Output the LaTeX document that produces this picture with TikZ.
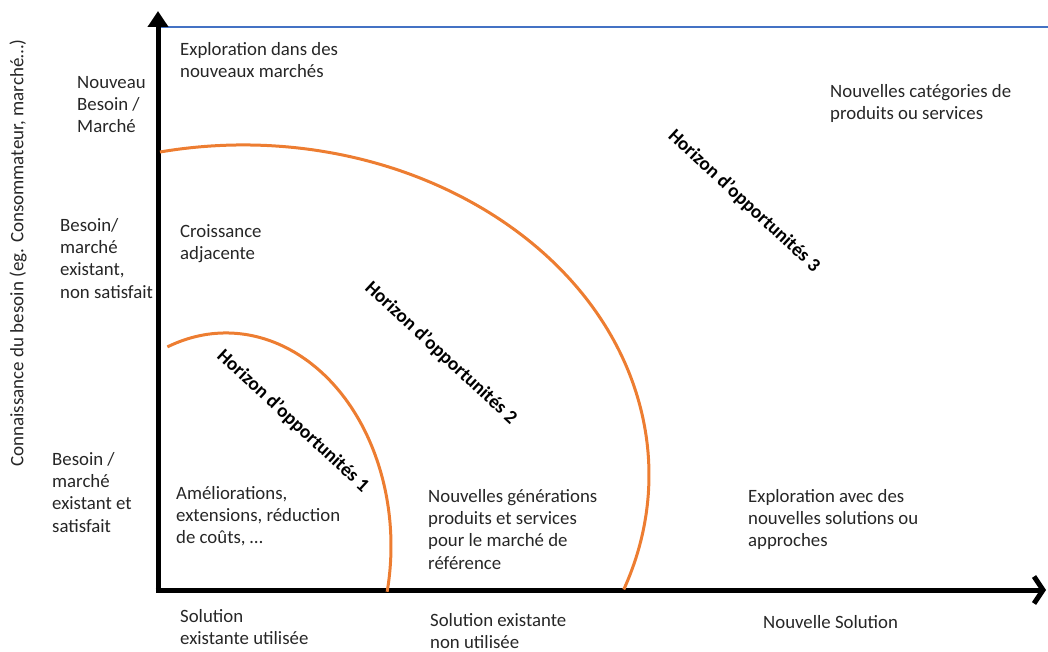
\documentclass[tikz,border=0pt]{standalone}
\usepackage{fontspec}
\setmainfont{Carlito}
\usetikzlibrary{arrows.meta,calc}
\definecolor{orangeC}{HTML}{ED7D31}
\definecolor{blueC}{HTML}{4472C4}
\definecolor{txt}{HTML}{262626}
\begin{document}
\begin{tikzpicture}[x=1pt,y=-1pt,
  lbl/.style={anchor=north west, align=left, inner sep=0pt, text=txt, font=\fontsize{18.8}{22.3}\selectfont},
  ylab/.style={rotate=90, inner sep=0pt, text=txt, font=\fontsize{19}{22}\selectfont},
  hz/.style={rotate=-42.8, inner sep=0pt, text=black, font=\bfseries\fontsize{19.3}{21}\selectfont},
  axisline/.style={line width=5pt, black},
  horizon/.style={draw=orangeC, line width=3pt},
  topline/.style={draw=blueC, line width=2.5pt}]
\useasboundingbox (0,0) rectangle (1048,652);
% axes
\coordinate (O) at (158,592.5);
\coordinate (Ox) at (155.5,590);
\coordinate (ytop) at (158,11);
\coordinate (xend) at (1046,590);
\coordinate (b1) at (160,27);
\coordinate (b2) at (1048,27);
\draw[topline] (b1) -- (b2);
\draw[axisline, -{Triangle[length=16pt,width=20pt]}] (O) -- (ytop);
\draw[axisline, -{Straight Barb[length=9pt,width=27pt]}] (Ox) -- (xend);
% horizons
\coordinate (c1) at (226,546);
\coordinate (c2) at (243,475);
\draw[horizon] ($(c1)+(-110.8:165 and 213)$) arc[start angle=-110.8, end angle=12.4, x radius=165, y radius=213];
\draw[horizon] ($(c2)+(-101.8:406 and 330)$) arc[start angle=-101.8, end angle=20.3, x radius=406, y radius=330];
% labels
\node[lbl] (nb) at (77,76) {Nouveau\\Besoin /\\Marché};
\node[lbl] (bmx) at (60,218) {Besoin/\\marché\\existant,\\non satisfait};
\node[lbl] (bms) at (52,452) {Besoin /\\marché\\existant et\\satisfait};
\node[lbl] (exm) at (180,42) {Exploration dans des\\nouveaux marchés};
\node[lbl] (cra) at (180,224) {Croissance\\adjacente};
\node[lbl] (ame) at (176,486) {Améliorations,\\extensions, réduction\\de coûts, …};
\node[lbl] (ngp) at (428,489) {Nouvelles générations\\produits et services\\pour le marché de\\référence};
\node[lbl] (exs) at (748,489) {Exploration avec des\\nouvelles solutions ou\\approches};
\node[lbl] (ncp) at (830,84) {Nouvelles catégories de\\produits ou services};
\node[lbl] (seu) at (180,609) {Solution\\existante utilisée};
\node[lbl] (senu) at (430,613) {Solution existante\\non utilisée};
\node[lbl] (ns) at (763,615) {Nouvelle Solution};
\node[ylab] (yl) at (18,253) {Connaissance du besoin (eg. Consommateur, marché…)};
\node[hz] (h1) at (293,421) {Horizon d'opportunités 1};
\node[hz] (h2) at (441,353) {Horizon d'opportunités 2};
\node[hz] (h3) at (744,201) {Horizon d'opportunités 3};
\end{tikzpicture}
\end{document}
